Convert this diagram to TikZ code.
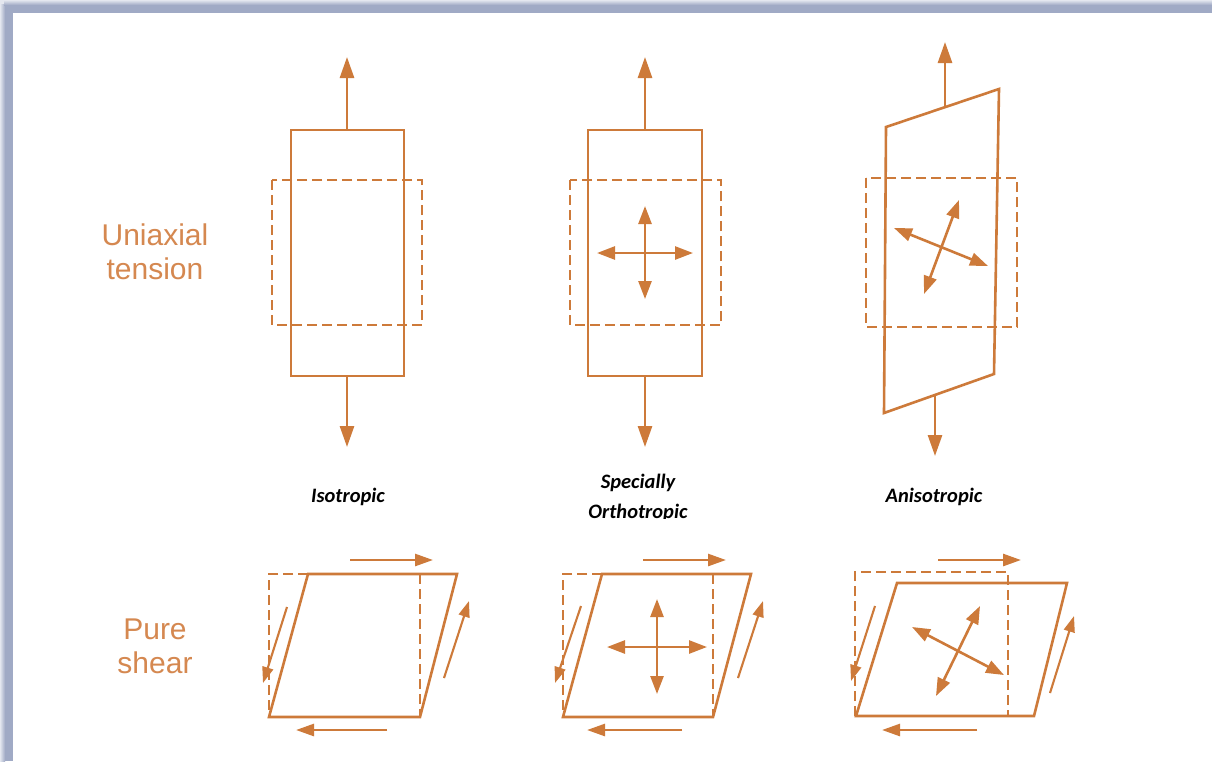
\documentclass[tikz,border=0pt]{standalone}
\usepackage{fontspec}
\newfontfamily\labfont{Liberation Sans}
\newfontfamily\capfont{Carlito}
\usetikzlibrary{arrows.meta}
\definecolor{oc}{RGB}{205,122,58}
\definecolor{tc}{RGB}{213,136,80}
\definecolor{band}{RGB}{160,170,197}
\definecolor{bandl}{RGB}{228,231,239}
\tikzset{
  solidbox/.style={draw=oc, line width=2.6pt, line join=miter},
  dashbox/.style={draw=oc, line width=2.6pt, dash pattern=on 10pt off 5pt},
  bigarr/.style={draw=oc, line width=2.7pt, -{Triangle[length=21pt,width=14pt]}},
  smallarr/.style={draw=oc, line width=2.6pt, -{Triangle[length=18pt,width=12pt]}},
  sidearr/.style={draw=oc, line width=2.1pt, -{Triangle[length=16pt,width=11pt]}},
  dblarr/.style={draw=oc, line width=2.6pt, {Triangle[length=18pt,width=13pt]}-{Triangle[length=18pt,width=13pt]}},
  lab/.style={text=tc, font=\labfont\fontsize{30}{36}\selectfont, inner sep=0pt, anchor=base},
  captext/.style={text=black, font=\capfont\bfseries\itshape\fontsize{20.5}{24}\selectfont, inner sep=0pt, anchor=base}
}
\begin{document}
\begin{tikzpicture}[x=1pt,y=-1pt]
\useasboundingbox (0,0) rectangle (1212,761);
\fill[white] (0,0) rectangle (1212,761);
% frame bands
\fill[band] (0,0) rectangle (13,761);
\fill[band] (0,0) rectangle (1212,13);
\shade[left color=bandl, right color=band] (0,4) rectangle (5,761);
\shade[top color=bandl, bottom color=band] (4,0) rectangle (1212,5);
\fill[bandl] (0,0) rectangle (4,4);

% ---- labels ----
\node[lab] (u1) at (155,245) {Uniaxial};
\node[lab] (u2) at (155,279) {tension};
\node[lab] (p1) at (155,639) {Pure};
\node[lab] (p2) at (155,673) {shear};

% ---- Isotropic, uniaxial ----
\draw[solidbox] (291,130) rectangle (404,376);
\draw[dashbox] (272,180) rectangle (422,325);
\draw[bigarr] (347,130) -- (347,57);
\draw[bigarr] (347,376) -- (347,447);

% ---- Specially orthotropic, uniaxial ----
\draw[solidbox] (588,130) rectangle (702,376);
\draw[dashbox] (570,180) rectangle (721,325);
\draw[bigarr] (645,130) -- (645,57);
\draw[bigarr] (645,376) -- (645,447);
\draw[dblarr] (597,253) -- (693,253);
\draw[dblarr] (645,206) -- (645,299);

% ---- Anisotropic, uniaxial ----
\draw[solidbox] (886,127) -- (999,89) -- (994,374) -- (884,413) -- cycle;
\draw[dashbox] (866,178) rectangle (1017,327);
\draw[bigarr] (945,107) -- (945,42);
\draw[bigarr] (935,395) -- (935,456);
\draw[dblarr] (894,228) -- (988,266);
\draw[dblarr] (959,200) -- (924,294);

% ---- captions ----
\node[captext] (c1) at (348,502) {Isotropic};
\node[captext] (c2) at (638,488) {Specially};
\begin{scope}
\clip (540,490) rectangle (740,518.5);
\node[captext] (c3) at (638,518) {Orthotropic};
\end{scope}
\node[captext] (c4) at (934,502) {Anisotropic};

% ---- Pure shear, isotropic ----
\draw[dashbox] (308,574) -- (269,574) -- (269,717);
\draw[dashbox] (420,574) -- (420,717);
\draw[solidbox] (308,574) -- (457,574) -- (420,717) -- (269,717) -- cycle;
\draw[smallarr] (350,560) -- (433,560);
\draw[smallarr] (387,730) -- (296,730);
\draw[sidearr] (287,607) -- (263,683);
\draw[sidearr] (444,678) -- (469,601);

% ---- Pure shear, specially orthotropic ----
\draw[dashbox] (602,574) -- (563,574) -- (563,717);
\draw[dashbox] (713,574) -- (713,717);
\draw[solidbox] (602,574) -- (751,574) -- (713,717) -- (563,717) -- cycle;
\draw[smallarr] (643,560) -- (726,560);
\draw[smallarr] (682,730) -- (587,730);
\draw[sidearr] (581,606) -- (555,683);
\draw[sidearr] (738,678) -- (763,601);
\draw[dblarr] (607,647) -- (707,647);
\draw[dblarr] (657,599) -- (657,694);

% ---- Pure shear, anisotropic ----
\draw[dashbox] (855,716) -- (855,572) -- (1008,572) -- (1008,716);
\draw[solidbox] (897,583) -- (1067,583) -- (1034,716) -- (856,716) -- cycle;
\draw[smallarr] (938,560) -- (1021,560);
\draw[smallarr] (977,730) -- (882,730);
\draw[sidearr] (875,606) -- (851,681);
\draw[sidearr] (1050,693) -- (1074,616);
\draw[dblarr] (912,627) -- (1004,675);
\draw[dblarr] (980,606) -- (936,696);
\end{tikzpicture}
\end{document}
